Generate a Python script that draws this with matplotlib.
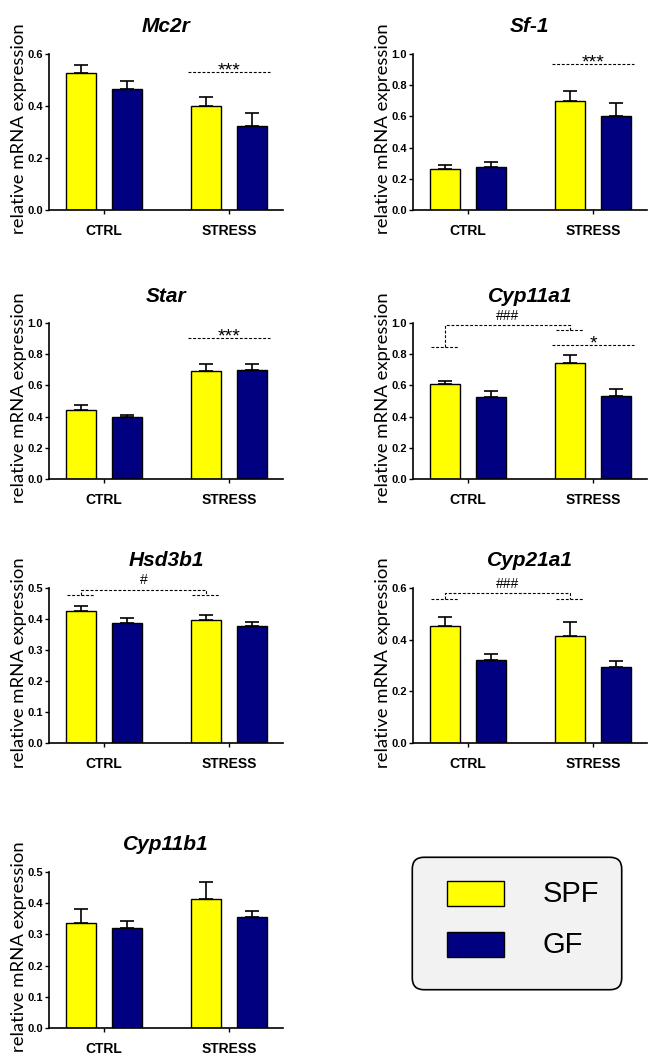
import numpy as np
import matplotlib
matplotlib.use("Agg")
import matplotlib.pyplot as plt
from matplotlib.patches import FancyBboxPatch, Rectangle

genes = ["Mc2r", "Sf-1", "Star", "Cyp11a1", "Hsd3b1", "Cyp21a1", "Cyp11b1"]
groups = ["CTRL", "STRESS"]

# mean and SEM (upper error only), order: CTRL, STRESS
spf_mean = [[0.526, 0.400], [0.261, 0.700], [0.441, 0.691], [0.608, 0.743],
            [0.426, 0.398], [0.454, 0.414], [0.337, 0.414]]
spf_err = [[0.032, 0.033], [0.026, 0.060], [0.032, 0.043], [0.023, 0.053],
           [0.015, 0.014], [0.034, 0.054], [0.046, 0.053]]
gf_mean = [[0.464, 0.323], [0.278, 0.604], [0.399, 0.697], [0.528, 0.535],
           [0.387, 0.376], [0.323, 0.294], [0.319, 0.355]]
gf_err = [[0.031, 0.049], [0.028, 0.083], [0.011, 0.043], [0.033, 0.043],
          [0.015, 0.014], [0.023, 0.025], [0.024, 0.020]]

ymax = [0.6, 1.0, 1.0, 1.0, 0.5, 0.6, 0.5]
ystep = [0.2, 0.2, 0.2, 0.2, 0.1, 0.2, 0.1]

# stress effect line: gene -> (y, label)
stress_sig = {"Mc2r": (0.532, "***"), "Sf-1": (0.936, "***"),
              "Star": (0.902, "***"), "Cyp11a1": (0.858, "*")}
# SPF ctrl vs stress bracket: gene -> (left y, right y, top y, label)
bracket_sig = {"Cyp11a1": (0.846, 0.955, 0.986, "###"),
               "Hsd3b1": (0.477, 0.477, 0.495, "#"),
               "Cyp21a1": (0.556, 0.556, 0.580, "###")}

YELLOW = "#ffff00"
NAVY = "#000080"

W, H = 651, 1056
fig = plt.figure(figsize=(W / 100, H / 100), dpi=100)

# panel boxes in pixels: left, top, right, bottom
boxes = [(49, 54, 283, 210), (413, 54, 647, 210),
         (49, 323, 283, 479), (413, 323, 647, 479),
         (49, 588, 283, 743), (413, 588, 647, 743),
         (49, 872, 283, 1028)]

bold = dict(family="Liberation Sans", weight="bold")
dash = (0, (2.6, 1.6))
x = np.arange(len(groups))
off = 0.184
bw = 0.24

for i, g in enumerate(genes):
    l, t, r, b = boxes[i]
    ax = fig.add_axes([l / W, 1 - b / H, (r - l) / W, (b - t) / H])
    ax.bar(x - off, spf_mean[i], bw, color=YELLOW, edgecolor="black", lw=1.0, zorder=2)
    ax.bar(x + off, gf_mean[i], bw, color=NAVY, edgecolor="black", lw=1.0, zorder=2)
    ax.errorbar(x - off, spf_mean[i], yerr=[[0, 0], spf_err[i]], fmt="none",
                ecolor="black", elinewidth=1.2, capsize=5, capthick=1.2, zorder=1)
    ax.errorbar(x + off, gf_mean[i], yerr=[[0, 0], gf_err[i]], fmt="none",
                ecolor="black", elinewidth=1.2, capsize=5, capthick=1.2, zorder=1)

    ax.set_xlim(-0.44, 1.432)
    ax.set_ylim(0, ymax[i])
    ax.set_yticks(np.round(np.arange(0, ymax[i] + 1e-9, ystep[i]), 2))
    ax.set_yticklabels(["%.1f" % v for v in ax.get_yticks()], **bold, fontsize=8)
    ax.set_xticks(x)
    ax.set_xticklabels(groups, **bold, fontsize=10)
    ax.tick_params(axis="y", length=3, width=1, pad=1.5)
    ax.tick_params(axis="x", length=3, width=1, pad=7)
    for s in ["top", "right"]:
        ax.spines[s].set_visible(False)
    for s in ["left", "bottom"]:
        ax.spines[s].set_linewidth(1.2)

    ax.set_ylabel("relative mRNA expression", family="Lato", fontsize=13.3)
    ax.yaxis.set_label_coords(-0.095, 0.52)

    ax.text(0.5, 1 + 27 / (b - t), g, transform=ax.transAxes, ha="center",
            va="center", family="Liberation Sans", weight="bold", style="italic",
            fontsize=15)

    if g in stress_sig:
        y, lab = stress_sig[g]
        ax.plot([0.675, 1.33], [y, y], color="black", lw=0.8, ls=dash, clip_on=False)
        ax.annotate(lab, (1.0, y), xytext=(0, -2.5), textcoords="offset points",
                    ha="center", va="baseline", family="Liberation Sans", fontsize=14)
    if g in bracket_sig:
        yl, yr, yt, lab = bracket_sig[g]
        c0, c1 = -off, 1 - off
        ax.plot([c0 - 0.112, c0 + 0.112], [yl, yl], color="black", lw=0.8, ls=dash, clip_on=False)
        ax.plot([c1 - 0.112, c1 + 0.112], [yr, yr], color="black", lw=0.8, ls=dash, clip_on=False)
        ax.plot([c0, c0, c1, c1], [yl, yt, yt, yr], color="black", lw=0.8, ls=dash, clip_on=False)
        ax.annotate(lab, ((c0 + c1) / 2, yt), xytext=(0, 1.5), textcoords="offset points",
                    ha="center", va="bottom", family="Liberation Sans", fontsize=10)

# legend box
box = FancyBboxPatch((424 / W, 1 - 978 / H), 186 / W, 109 / H,
                     boxstyle="round,pad=0.018,rounding_size=0.018",
                     transform=fig.transFigure, facecolor="#f2f2f2",
                     edgecolor="black", lw=1.2, mutation_aspect=W / H)
fig.patches.append(box)
for lab, col, top in [("SPF", YELLOW, 881), ("GF", NAVY, 932)]:
    fig.patches.append(Rectangle((447 / W, 1 - (top + 25) / H), 57 / W, 25 / H,
                                 transform=fig.transFigure, facecolor=col,
                                 edgecolor="black", lw=1.0))
    fig.text(543 / W, 1 - (top + 13) / H, lab, ha="left", va="center",
             family="Liberation Sans", fontsize=21)

fig.savefig("out.png", dpi=100)
